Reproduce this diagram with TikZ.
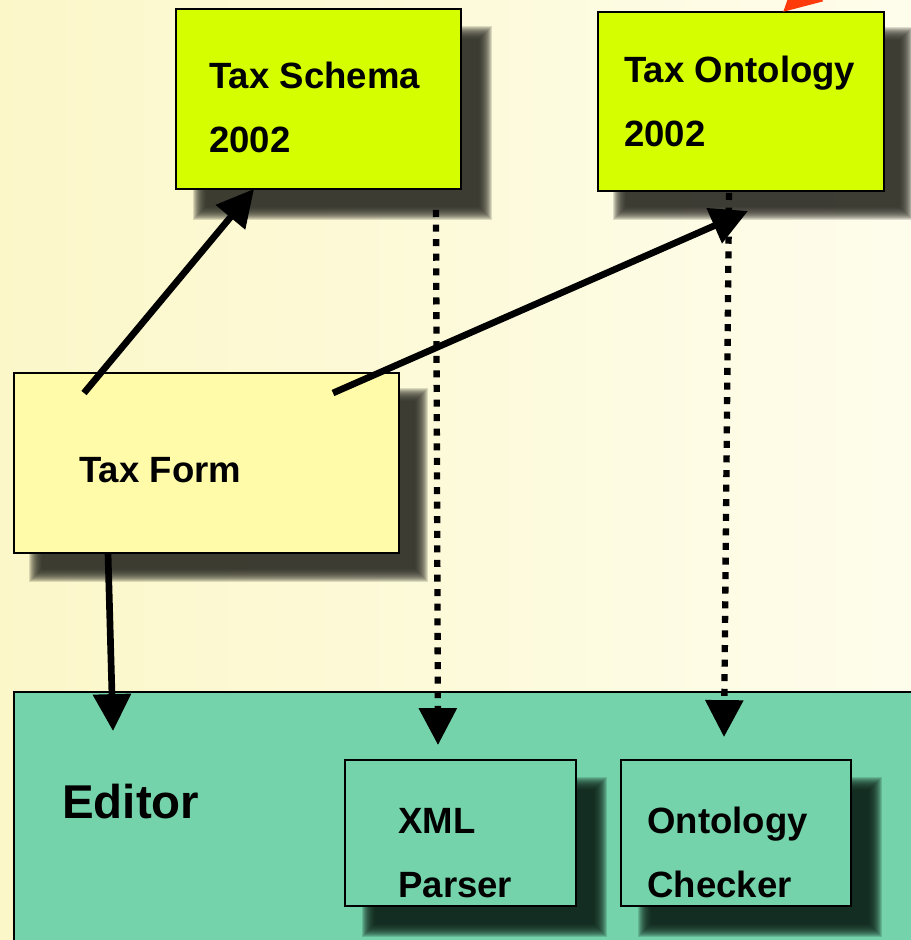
\documentclass[tikz,border=0pt]{standalone}
\usepackage{fontspec}
\setmainfont{Liberation Sans}
\usetikzlibrary{arrows.meta,calc}

\definecolor{bgA}{HTML}{FCF7C9}
\definecolor{bgB}{HTML}{FEFDEC}
\definecolor{lime}{HTML}{D5FE00}
\definecolor{paleyellow}{HTML}{FFFBA8}
\definecolor{seagreen}{HTML}{74D3AA}
\definecolor{shadowgrey}{HTML}{2E2E26}
\definecolor{shadowgreen}{HTML}{0E2018}
\definecolor{redarrow}{HTML}{FF3A0A}

% soft drop shadow built from stacked translucent rectangles
\newcommand\dropshadow[5]{%
  \foreach \k in {0,...,13}{%
    \fill[#5, opacity=0.16]
      ({#1-7+\k},{#2-7+\k}) rectangle ({#3+7-\k},{#4+7-\k});
  }}

\tikzset{
  box/.style={draw=black, line width=1pt, inner sep=0pt, outer sep=0pt,
              anchor=north west, rectangle},
  label/.style={anchor=base west, inner sep=0pt,
                font=\bfseries\fontsize{20.8}{24}\selectfont},
  biglabel/.style={anchor=base west, inner sep=0pt,
                   font=\bfseries\fontsize{27}{32}\selectfont},
  arr/.style={line width=3.8pt, -{Triangle[length=21pt,width=21pt]}},
  dotarr/.style={line width=3.6pt, dash pattern=on 4pt off 4.3pt,
                 -{Triangle[length=21pt,width=21pt]}},
}

\begin{document}
\begin{tikzpicture}[x=0.02cm,y=-0.02cm]
\useasboundingbox (0,0) rectangle (911,940);
\clip (0,0) rectangle (911,940);

% page background
\shade[left color=bgA, right color=bgB] (0,0) rectangle (911,940);

% top row: schema and ontology
\dropshadow{200}{33}{485}{213}{shadowgrey}
\node[box, fill=lime, minimum width=5.70cm, minimum height=3.60cm] (schema) at (176,9) {};
\dropshadow{620}{34}{906}{213}{shadowgrey}
\node[box, fill=lime, minimum width=5.72cm, minimum height=3.58cm] (ontology) at (598,12) {};

% tax form
\dropshadow{36}{395}{421}{575}{shadowgrey}
\node[box, fill=paleyellow, minimum width=7.70cm, minimum height=3.60cm] (form) at (14,373) {};

% editor with its two components
\node[box, fill=seagreen, minimum width=20cm, minimum height=8cm] (editor) at (14,692) {};
\dropshadow{369}{784}{600}{930}{shadowgreen}
\node[box, fill=seagreen, minimum width=4.62cm, minimum height=2.92cm] (xml) at (345,760) {};
\dropshadow{645}{784}{875}{930}{shadowgreen}
\node[box, fill=seagreen, minimum width=4.60cm, minimum height=2.92cm] (checker) at (621,760) {};

% labels
\node[label] (schemaA) at (209,88) {Tax Schema};
\node[label] (schemaB) at (209,152) {2002};
\node[label] (ontoA) at (624,82) {Tax Ontology};
\node[label] (ontoB) at (624,146) {2002};
\node[label] (formA) at (79,482) {Tax Form};
\node[biglabel] (editorA) at (62,818) {Editor};
\node[label] (xmlA) at (398,833) {XML};
\node[label] (xmlB) at (398,897) {Parser};
\node[label] (checkA) at (647,833) {Ontology};
\node[label] (checkB) at (647,897) {Checker};

% connectors
\draw[arr] ($(form.north west)+(70,20)$) -- ($(schema.south west)+(78,0)$);
\draw[arr] ($(form.north west)+(319,20)$) -- ($(ontology.south west)+(150,20)$);
\draw[arr] ($(form.south west)+(94,0)$) -- ($(editor.north west)+(99,39)$);
\draw[dotarr] ($(schema.south west)+(260,21)$) -- ($(xml.north west)+(93,-15)$);
\draw[dotarr] ($(ontology.south west)+(131,2)$) -- ($(checker.north west)+(103,-23)$);

% incoming arrow from above the frame
\coordinate (redsrc) at (845,-45);
\draw[arr, redarrow] (redsrc) -- ($(ontology.north west)+(185,0)$);
\end{tikzpicture}
\end{document}
